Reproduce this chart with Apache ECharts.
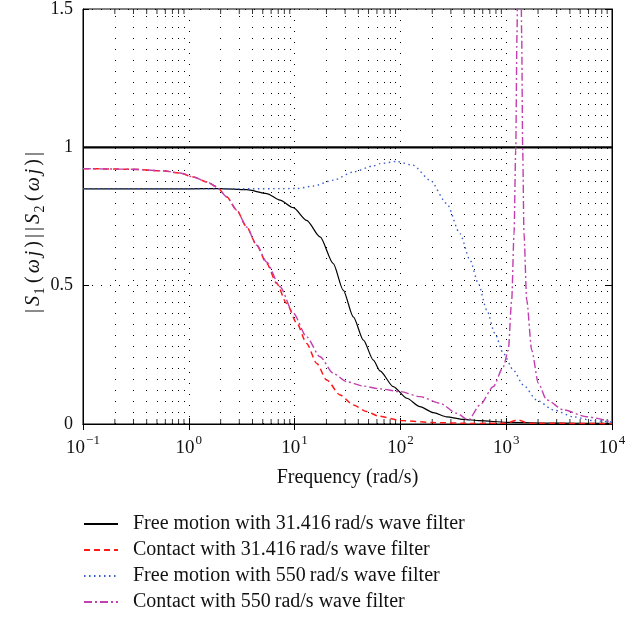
<!DOCTYPE html>
<html><head><meta charset="utf-8">
<script src="https://cdn.jsdelivr.net/npm/echarts@6/dist/echarts.min.js"></script>
<style>html,body{margin:0;padding:0;background:#fff}#c{width:640px;height:619px}</style>
</head><body><div id="c"></div>
<script>
// ---- data (frequency in rad/s, magnitude) ----
const seriesNames = [
  'Free motion with 31.416\u2009rad/s wave filter',
  'Contact with 31.416\u2009rad/s wave filter',
  'Free motion with 550\u2009rad/s wave filter',
  'Contact with 550\u2009rad/s wave filter'
];
const freeLowFreq = [0.1, 1, 1.97, 3.52, 5.45, 7.28, 9.73, 13.0, 17.4, 23.2, 28.8, 35.9, 44.7, 55.5, 64.1, 85.7, 115, 153, 205, 274, 394, 565, 1000, 3160, 10000];
const freeLowVal  = [0.85, 0.85, 0.851, 0.847, 0.833, 0.809, 0.782, 0.736, 0.676, 0.58, 0.484, 0.387, 0.303, 0.231, 0.192, 0.135, 0.093, 0.063, 0.041, 0.026, 0.017, 0.012, 0.006, 0.003, 0.002];

const contactLowFreq = [0.1, 0.278, 0.574, 0.826, 1.10, 1.48, 1.84, 2.28, 2.84, 3.52, 4.39, 5.45, 6.78, 8.41, 10.5, 13.0, 16.2, 20.1, 26.9, 35.9, 48.0, 61.8, 100, 200, 500, 1000, 1290, 1600, 10000];
const contactLowVal  = [0.923, 0.921, 0.915, 0.907, 0.893, 0.875, 0.857, 0.821, 0.773, 0.712, 0.646, 0.58, 0.508, 0.436, 0.364, 0.291, 0.219, 0.159, 0.105, 0.069, 0.045, 0.029, 0.013, 0.005, 0.002, 0.003, 0.015, 0.003, 0.001];

const freeHighFreq = [0.1, 1, 3, 10.5, 15.0, 23.2, 35.9, 55.5, 64.1, 92.3, 132, 191, 274, 366, 455, 545, 655, 783, 940, 1167, 1452, 1941, 2786, 4305, 6653, 10000];
const freeHighVal  = [0.85, 0.85, 0.85, 0.851, 0.86, 0.881, 0.911, 0.933, 0.941, 0.949, 0.935, 0.881, 0.797, 0.688, 0.592, 0.508, 0.412, 0.327, 0.255, 0.195, 0.141, 0.087, 0.051, 0.026, 0.012, 0.007];

const contactHighFreq = [0.1, 0.278, 0.574, 0.826, 1.10, 1.48, 1.84, 2.28, 2.84, 3.52, 4.39, 5.45, 7.28, 9.73, 13.0, 17.4, 23.2, 31.0, 44.7, 64.1, 100, 153, 237, 340, 439, 565, 755, 940, 1047, 1127, 1186, 1230, 1265, 1330, 1400, 1432, 1472, 1563, 1742, 2014, 2415, 3467, 5768, 10000];
const contactHighVal  = [0.923, 0.921, 0.915, 0.907, 0.893, 0.875, 0.857, 0.821, 0.773, 0.712, 0.646, 0.585, 0.496, 0.40, 0.315, 0.243, 0.183, 0.153, 0.137, 0.127, 0.117, 0.099, 0.075, 0.039, 0.014, 0.069, 0.135, 0.207, 0.267, 0.448, 0.688, 0.989, 1.41, 3.0, 1.41, 0.99, 0.689, 0.448, 0.267, 0.147, 0.087, 0.051, 0.026, 0.007];

const unityLevel = 1;
const xMin = 0.1, xMax = 10000;
const yMin = 0, yMax = 1.5, yStep = 0.5;
const xTitle = 'Frequency (rad/s)';
const yTitle = '{b||}{it|S}{sub|1}{b|(}{it|\u03c9}{it|j}{b|)}{b||}{b||}{it|S}{sub|2}{b|(}{it|\u03c9}{it|j}{b|)}{b||}';

// ---- helpers ----
const pair = (f, v) => f.map((x, i) => [x, v[i]]);
const minorFreqs = [];
for (let e = -1; e < 4; e++) for (let k = 2; k <= 9; k++) minorFreqs.push(k * Math.pow(10, e));

const serif = 'Liberation Serif';
const chart = echarts.init(document.getElementById('c'));

function lineSeries(name, data, color, type, width) {
  return {
    name, type: 'line', data, symbol: 'none', showSymbol: false, smooth: 0.25, smoothMonotone: 'x',
    clip: true, z: 5,
    lineStyle: { color, width, type },
    itemStyle: { color }
  };
}

chart.setOption({
  animation: false,
  backgroundColor: '#fff',
  grid: { left: 83, right: 28, top: 9, bottom: 195, show: true, borderColor: '#000', borderWidth: 1, backgroundColor: 'transparent' },
  legend: {
    data: seriesNames, orient: 'vertical', left: 83, top: 514, padding: 0,
    itemWidth: 34, itemHeight: 14, itemGap: 6,
    itemStyle: { opacity: 0 },
    textStyle: { fontFamily: serif, fontSize: 20, color: '#111', lineHeight: 20, padding: [0, 0, 0, 10] }
  },
  xAxis: [{
    type: 'log', logBase: 10, min: xMin, max: xMax, splitNumber: 5,
    name: xTitle, nameLocation: 'middle', nameGap: 44,
    nameTextStyle: { fontFamily: serif, fontSize: 20, color: '#111' },
    axisLine: { show: true, lineStyle: { color: '#000', width: 1 } },
    axisTick: { show: true, inside: true, length: 6, lineStyle: { color: '#000' } },
    splitLine: { show: true, lineStyle: { color: '#000', width: 1, type: [1, 10] } },
    axisLabel: {
      margin: 10,
      formatter: v => { const e = Math.round(Math.log10(v)); return '{b|10}{s|' + (e < 0 ? '\u2212' + (-e) : e) + '}'; },
      rich: {
        b: { fontFamily: serif, fontSize: 19, color: '#111', lineHeight: 24, verticalAlign: 'bottom' },
        s: { fontFamily: serif, fontSize: 13, color: '#111', lineHeight: 24, verticalAlign: 'top', padding: [0, 0, 0, 1] }
      }
    }
  }, {
    type: 'log', logBase: 10, min: xMin, max: xMax, splitNumber: 5, position: 'top',
    axisLine: { show: true, lineStyle: { color: '#000' } },
    axisTick: { show: true, inside: true, length: 6, lineStyle: { color: '#000' } },
    axisLabel: { show: false }, splitLine: { show: false }
  }],
  yAxis: [{
    type: 'value', min: yMin, max: yMax, interval: yStep,
    name: yTitle,
    nameLocation: 'middle', nameGap: 36, nameMoveOverlap: false,
    nameTextStyle: {
      fontFamily: serif, fontSize: 20, color: '#111', padding: [0, 32, 0, 0],
      rich: {
        b: { fontFamily: serif, fontSize: 20, color: '#111', padding: [0, 1.5, 0, 1.5] },
        it: { fontFamily: serif, fontSize: 20, fontStyle: 'italic', color: '#111', padding: [0, 1.5, 0, 1.5] },
        sub: { fontFamily: serif, fontSize: 14, color: '#111', verticalAlign: 'bottom', lineHeight: 26, padding: [0, 3, 0, 0] }
      }
    },
    axisLine: { show: true, lineStyle: { color: '#000' } },
    axisTick: { show: true, inside: true, length: 6, lineStyle: { color: '#000' } },
    splitLine: { show: true, lineStyle: { color: '#000', width: 1, type: [1, 8] } },
    axisLabel: { fontFamily: serif, fontSize: 18, color: '#111', margin: 10 }
  }, {
    type: 'value', min: yMin, max: yMax, interval: yStep, position: 'right',
    axisLine: { show: true, lineStyle: { color: '#000' } },
    axisTick: { show: true, inside: true, length: 6, lineStyle: { color: '#000' } },
    axisLabel: { show: false }, splitLine: { show: false }
  }],
  series: [
    {
      name: 'unity', type: 'line', data: [[xMin, unityLevel], [xMax, unityLevel]], symbol: 'none', z: 4,
      lineStyle: { color: '#000', width: 2.2 }, silent: true,
      markLine: {
        silent: true, symbol: ['none', 'none'], label: { show: false }, animation: false,
        lineStyle: { color: '#000', width: 1, type: [1, 10] },
        data: minorFreqs.map(f => ({ xAxis: f }))
      }
    },
    {
      name: 'ticksBottom', type: 'scatter', silent: true, clip: false, z: 3,
      data: minorFreqs.map(f => [f, yMin]), symbol: 'rect', symbolSize: [1, 5], symbolOffset: [0, -2.5],
      itemStyle: { color: '#000' }
    },
    {
      name: 'ticksTop', type: 'scatter', silent: true, clip: false, z: 3,
      data: minorFreqs.map(f => [f, yMax]), symbol: 'rect', symbolSize: [1, 5], symbolOffset: [0, 2.5],
      itemStyle: { color: '#000' }
    },
    lineSeries(seriesNames[0], pair(freeLowFreq, freeLowVal), '#000000', 'solid', 1.2),
    lineSeries(seriesNames[1], pair(contactLowFreq, contactLowVal), '#ff1a1a', [6, 4], 1.5),
    lineSeries(seriesNames[2], pair(freeHighFreq, freeHighVal), '#3a5fcd', [1.5, 3.5], 1.4),
    lineSeries(seriesNames[3], pair(contactHighFreq, contactHighVal), '#c13fae', [8, 3, 2, 3], 1.4)
  ]
});
</script>
</body></html>
